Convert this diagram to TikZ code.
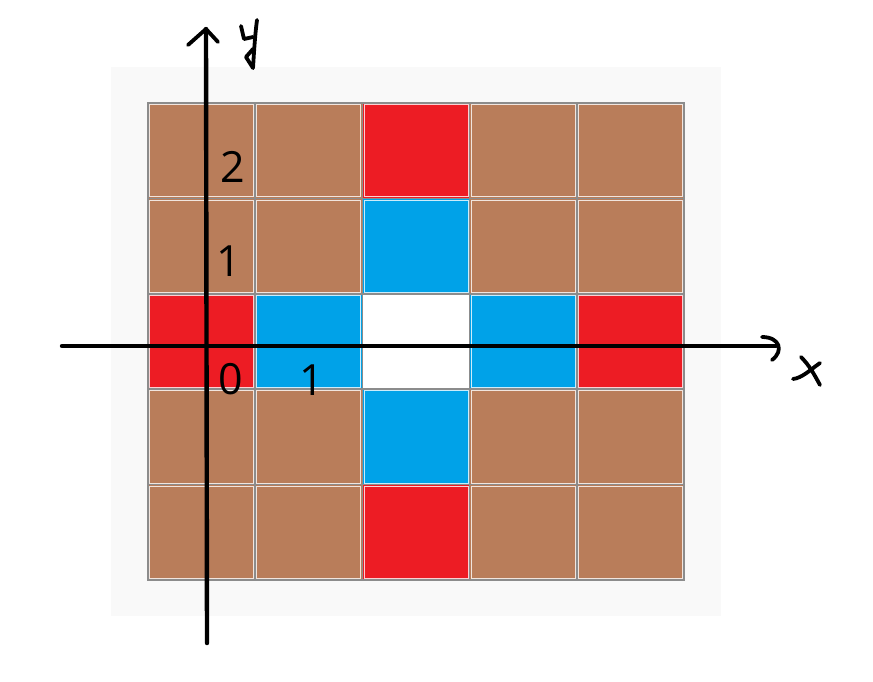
\documentclass[tikz,border=0pt]{standalone}
\usepackage{fontspec}
\setmainfont{Open Sans}
\definecolor{cbrown}{HTML}{B97D5A}
\definecolor{cred}{HTML}{ED1C24}
\definecolor{cblue}{HTML}{00A2E8}
\definecolor{cwhite}{HTML}{FFFFFF}
\definecolor{bgray}{HTML}{F9F9F9}
\definecolor{lgray}{HTML}{8C8C8C}
\begin{document}
\begin{tikzpicture}[x=1pt,y=-1pt,
  gridline/.style={draw=lgray,line width=1.6pt},
  hilite/.style={draw=white,line width=0.8pt,opacity=0.8},
  axis/.style={line width=4.4pt,line cap=round,line join=round},
  pen/.style={line width=3.8pt,line cap=round,line join=round},
  lbl/.style={font=\fontsize{43}{43}\selectfont,inner sep=0pt}]
\useasboundingbox (0,0) rectangle (873,681);
\fill[bgray] (111,67) rectangle (721,616);
\foreach \r/\cols in {0/{cbrown,cbrown,cred,cbrown,cbrown},
                      1/{cbrown,cbrown,cblue,cbrown,cbrown},
                      2/{cred,cblue,cwhite,cblue,cred},
                      3/{cbrown,cbrown,cblue,cbrown,cbrown},
                      4/{cbrown,cbrown,cred,cbrown,cbrown}}{
  \foreach \col [count=\c from 0] in \cols {
    \pgfmathsetmacro{\xa}{148+\c*107.2}
    \pgfmathsetmacro{\ya}{103+\r*95.4}
    \fill[\col] (\xa,\ya) rectangle ++(107.2,95.4);
    \draw[hilite] (\xa+1.6,\ya+1.6) rectangle ++(104,92.2);
    \draw[gridline] (\xa,\ya) rectangle ++(107.2,95.4);
  }
}
% axes
\coordinate (xs) at (62,346);
\coordinate (xe) at (776,346);
\coordinate (ys) at (207,643);
\coordinate (ye) at (206,29);
\draw[axis] (xs) -- (xe);
\draw[axis] (ys) -- (ye);
% hand-drawn arrowheads
\draw[pen] (188,45) -- (ye) -- (218,42);
\draw[pen] (762,337) .. controls (780,337) and (784,351) .. (772,360);
% handwritten x
\draw[pen] (801,357) .. controls (810,366) and (815,376) .. (820,385);
\draw[pen] (820,363) .. controls (810,370) and (802,378) .. (793,379);
% handwritten y
\draw[pen] (241,26) -- (244,39) -- (253,37);
\draw[pen] (257,20) .. controls (255,35) and (254,52) .. (253,68) -- (246,57) -- (253,49);
% labels
\node[lbl] (l2) at (233,167) {2};
\node[lbl] (l1) at (229,261) {1};
\node[lbl] (l0) at (231,379) {0};
\node[lbl] (lx1) at (312,380) {1};
\end{tikzpicture}
\end{document}
